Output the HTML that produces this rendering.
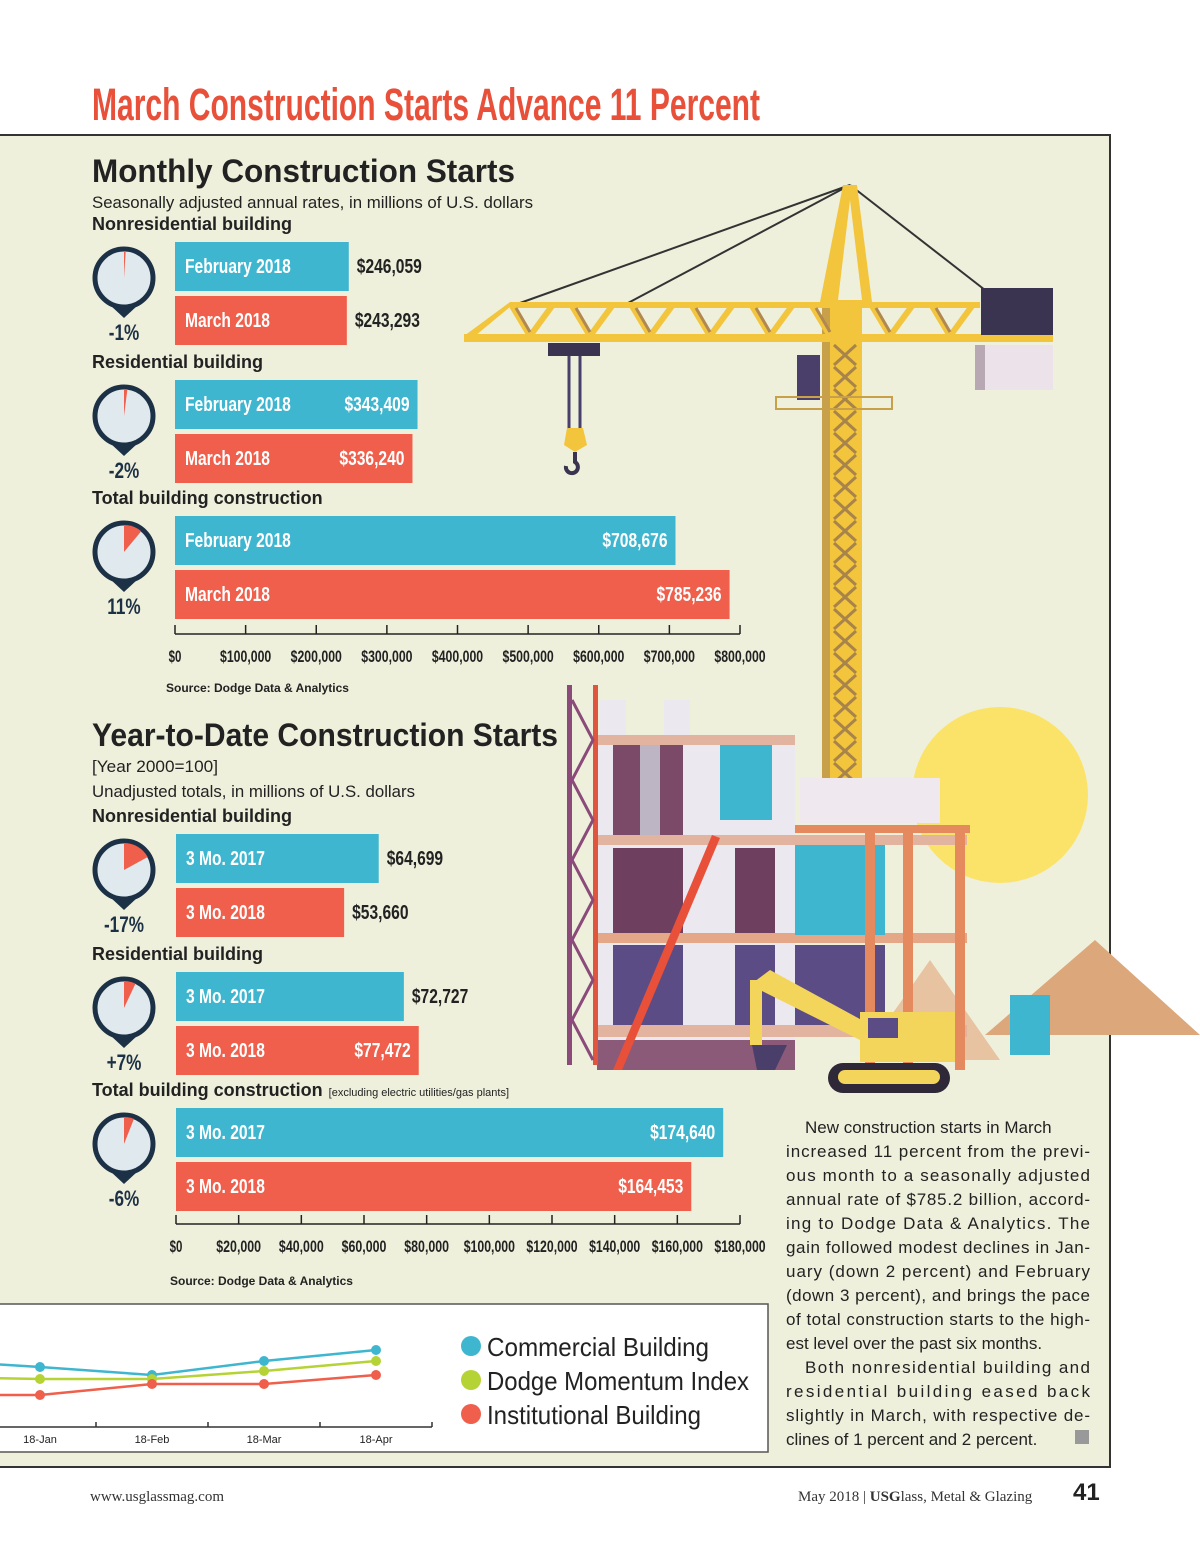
<!DOCTYPE html>
<html><head><meta charset="utf-8"><style>
html,body{margin:0;padding:0;background:#fff;}
svg{display:block;}
.c{font-family:"Liberation Sans Narrow","Liberation Sans",sans-serif;font-weight:bold;}
.s{font-family:"Liberation Sans",sans-serif;}
</style></head><body>
<svg id="page" width="1200" height="1558" viewBox="0 0 1200 1558" xmlns="http://www.w3.org/2000/svg">
<rect width="1200" height="1558" fill="#fff"/>
<text x="92" y="120" class="c" font-size="45" fill="#e8503a" textLength="668" lengthAdjust="spacingAndGlyphs">March Construction Starts Advance 11 Percent</text>
<rect x="-2" y="135" width="1112" height="1332" fill="#eff0dc" stroke="#333" stroke-width="2"/>
<g id="illus">
<circle cx="1000" cy="795" r="88" fill="#fbe36a"/>
<polygon points="985,1035 1095,940 1200,1035" fill="#dca77a"/>
<polygon points="860,1060 930,960 1000,1060" fill="#e8c3a2"/>
<line x1="850" y1="185" x2="520" y2="303" stroke="#333" stroke-width="2"/>
<line x1="850" y1="185" x2="628" y2="303" stroke="#333" stroke-width="2"/>
<line x1="850" y1="185" x2="985" y2="290" stroke="#333" stroke-width="2"/>
<polygon points="843,185 857,185 872,302 820,302" fill="#f2c53d"/>
<polygon points="850,200 862,300 838,300" fill="#eff0dc"/>
<g id="mast"></g>
<g id="jib"></g>
<rect x="981" y="288" width="72" height="47" fill="#3a3450"/>
<rect x="975" y="345" width="78" height="45" fill="#ece2ea"/>
<rect x="975" y="345" width="10" height="45" fill="#b8a8b4"/>
<rect x="797" y="355" width="23" height="45" fill="#4a3f6a"/>
<rect x="776" y="397" width="116" height="12" fill="none" stroke="#c9a04a" stroke-width="2"/>
<rect x="548" y="343" width="52" height="13" fill="#3a3450"/>
<line x1="569" y1="356" x2="569" y2="430" stroke="#4a3f6a" stroke-width="3"/>
<line x1="580" y1="356" x2="580" y2="430" stroke="#4a3f6a" stroke-width="3"/>
<polygon points="567,428 583,428 587,445 575,452 564,445" fill="#f2c53d"/>
<path d="M575 452 v10 a6 6 0 1 1 -9 4" fill="none" stroke="#3a3450" stroke-width="4"/>
<!-- building -->
<rect x="597" y="735" width="198" height="335" fill="#ece8ef"/>
<rect x="613" y="745" width="70" height="90" fill="#7a4a68"/>
<rect x="640" y="745" width="20" height="90" fill="#bdb4c4"/>
<rect x="613" y="848" width="70" height="85" fill="#6e3f5e"/>
<rect x="613" y="945" width="70" height="85" fill="#5c4c85"/>
<rect x="735" y="848" width="40" height="85" fill="#6e3f5e"/>
<rect x="735" y="945" width="40" height="85" fill="#5c4c85"/>
<rect x="720" y="745" width="52" height="75" fill="#3fb6cf"/>
<rect x="597" y="735" width="198" height="10" fill="#e2b4a0"/>
<rect x="597" y="835" width="370" height="10" fill="#e2b4a0"/>
<rect x="597" y="933" width="370" height="10" fill="#e4a888"/>
<rect x="597" y="1025" width="370" height="12" fill="#e2b4a0"/>
<rect x="597" y="1040" width="198" height="30" fill="#8a5a78"/>
<rect x="795" y="845" width="90" height="90" fill="#3fb6cf"/>
<rect x="795" y="945" width="90" height="80" fill="#5c4c85"/>
<rect x="800" y="778" width="140" height="45" fill="#efe8ee"/>
<rect x="795" y="825" width="175" height="8" fill="#e58a5e"/>
<rect x="865" y="825" width="10" height="245" fill="#e58a5e"/>
<rect x="903" y="825" width="10" height="245" fill="#e58a5e"/>
<rect x="955" y="825" width="10" height="245" fill="#e58a5e"/>
<rect x="567" y="685" width="5" height="380" fill="#8a4a7a"/>
<rect x="593" y="685" width="5" height="380" fill="#e0553e"/>
<path d="M572 700 L593 740 L572 780 L593 820 L572 860 L593 900 L572 940 L593 980 L572 1020 L593 1060" fill="none" stroke="#8a4a7a" stroke-width="3"/>
<polygon points="613,1070 712,835 720,838 622,1070" fill="#e8503a"/>
<polygon points="750,985 770,970 880,1030 870,1045" fill="#f2d55a"/>
<rect x="750" y="980" width="12" height="65" fill="#f2d55a"/>
<path d="M752 1045 h35 l-12 25 h-18 z" fill="#4a3f6a"/>
<rect x="860" y="1012" width="95" height="50" fill="#f2d55a"/>
<rect x="868" y="1018" width="30" height="20" fill="#5c4c85"/>
<rect x="828" y="1063" width="122" height="30" rx="15" fill="#2e2838"/>
<rect x="838" y="1070" width="102" height="14" rx="7" fill="#f2d55a"/>
<rect x="1010" y="995" width="40" height="60" fill="#3fb6cf"/>
<rect x="600" y="700" width="26" height="35" fill="#ece8ef"/>
<rect x="664" y="700" width="26" height="35" fill="#ece8ef"/>
</g>
<g id="charts"></g>
<text x="92" y="182" class="s" font-weight="bold" font-size="32" fill="#222" textLength="423" lengthAdjust="spacingAndGlyphs">Monthly Construction Starts</text>
<text x="92" y="208" class="s" font-size="17" fill="#222" textLength="441" lengthAdjust="spacingAndGlyphs">Seasonally adjusted annual rates, in millions of U.S. dollars</text>
<text x="166" y="692" class="s" font-weight="bold" font-size="12" fill="#222">Source: Dodge Data &amp; Analytics</text>
<text x="92" y="746" class="s" font-weight="bold" font-size="32" fill="#222" textLength="466" lengthAdjust="spacingAndGlyphs">Year-to-Date Construction Starts</text>
<text x="92" y="772" class="s" font-size="17" fill="#222" textLength="126" lengthAdjust="spacingAndGlyphs">[Year 2000=100]</text>
<text x="92" y="797" class="s" font-size="17" fill="#222" textLength="323" lengthAdjust="spacingAndGlyphs">Unadjusted totals, in millions of U.S. dollars</text>
<text x="170" y="1285" class="s" font-weight="bold" font-size="12" fill="#222">Source: Dodge Data &amp; Analytics</text>
<rect x="-2" y="1304" width="770" height="148" fill="#fff" stroke="#555" stroke-width="1.5"/>
<g id="linechart"></g>
<g class="s" font-size="17" fill="#222">
<text x="805" y="1133">New construction starts in March</text>
<text x="786" y="1157" textLength="304" lengthAdjust="spacing">increased 11 percent from the previ-</text>
<text x="786" y="1181" textLength="304" lengthAdjust="spacing">ous month to a seasonally adjusted</text>
<text x="786" y="1205" textLength="304" lengthAdjust="spacing">annual rate of $785.2 billion, accord-</text>
<text x="786" y="1229" textLength="304" lengthAdjust="spacing">ing to Dodge Data &amp; Analytics. The</text>
<text x="786" y="1253" textLength="304" lengthAdjust="spacing">gain followed modest declines in Jan-</text>
<text x="786" y="1277" textLength="304" lengthAdjust="spacing">uary (down 2 percent) and February</text>
<text x="786" y="1301" textLength="304" lengthAdjust="spacing">(down 3 percent), and brings the pace</text>
<text x="786" y="1325" textLength="304" lengthAdjust="spacing">of total construction starts to the high-</text>
<text x="786" y="1349">est level over the past six months.</text>
<text x="805" y="1373" textLength="285" lengthAdjust="spacing">Both nonresidential building and</text>
<text x="786" y="1397" textLength="304" lengthAdjust="spacing">residential building eased back</text>
<text x="786" y="1421" textLength="304" lengthAdjust="spacing">slightly in March, with respective de-</text>
<text x="786" y="1445">clines of 1 percent and 2 percent.</text>
<rect x="1075" y="1430" width="14" height="14" fill="#999"/>
</g>
<text x="90" y="1501" font-family="Liberation Serif,serif" font-size="15" fill="#333">www.usglassmag.com</text>
<text x="798" y="1501" font-family="Liberation Serif,serif" font-size="15" fill="#333">May 2018 |  <tspan font-weight="bold">USG</tspan>lass, Metal &amp; Glazing</text>
<text x="1073" y="1500" class="s" font-weight="bold" font-size="24" fill="#222">41</text>
</svg>
<script>
// ---- Monthly chart data ----
const monthlyGroups = ["Nonresidential building","Residential building","Total building construction"];
const monthlyFeb = [246059, 343409, 708676];
const monthlyMar = [243293, 336240, 785236];
const monthlyPct = ["-1%","-2%","11%"];
const monthlyPctVal = [-1, -2, 11];
const monthlyTicks = ["$0","$100,000","$200,000","$300,000","$400,000","$500,000","$600,000","$700,000","$800,000"];
const monthlyTickVals = [0,100000,200000,300000,400000,500000,600000,700000,800000];
// ---- YTD chart data ----
const ytdGroups = ["Nonresidential building","Residential building","Total building construction"];
const ytd2017 = [64699, 72727, 174640];
const ytd2018 = [53660, 77472, 164453];
const ytdPct = ["-17%","+7%","-6%"];
const ytdPctVal = [-17, 7, -6];
const ytdTicks = ["$0","$20,000","$40,000","$60,000","$80,000","$100,000","$120,000","$140,000","$160,000","$180,000"];
const ytdTickVals = [0,20000,40000,60000,80000,100000,120000,140000,160000,180000];
// ---- Momentum line chart data ----
const lineCats = ["17-Dec","18-Jan","18-Feb","18-Mar","18-Apr"];
const commercial = [140,126,110,138,160];
const momentum = [106,102,102,118,138];
const institutional = [70,70,92,92,110];
const legendNames = ["Commercial Building","Dodge Momentum Index","Institutional Building"];

const NS="http://www.w3.org/2000/svg";
const BLUE="#3fb6cf", RED="#ef5f4b", NAVY="#1d3146", GREEN="#b5d334";
function mk(parent,tag,attrs,text){const e=document.createElementNS(NS,tag);for(const k in attrs)e.setAttribute(k,attrs[k]);if(text!=null)e.textContent=text;parent.appendChild(e);return e;}
const charts=document.getElementById('charts');

// decorative crane lattice
const mast=document.getElementById('mast');
mk(mast,'rect',{x:822,y:302,width:40,height:476,fill:"#f2c53d"});
mk(mast,'rect',{x:822,y:302,width:8,height:476,fill:"#c9a04a"});
for(let y=345;y<770;y+=22){
  mk(mast,'path',{d:`M834 ${y} L856 ${y+20} M856 ${y} L834 ${y+20}`,stroke:"#a8834a","stroke-width":3});
}
const jib=document.getElementById('jib');
mk(jib,'rect',{x:510,y:302,width:470,height:6,fill:"#f2c53d"});
mk(jib,'polygon',{points:"464,336 510,302 516,302 475,336",fill:"#f2c53d"});
mk(jib,'rect',{x:464,y:334,width:589,height:8,fill:"#f2c53d"});
for(let x=512;x<975;x+=60){
  mk(jib,'path',{d:`M${x} 306 L${x+18} 336 L${x+40} 306`,fill:"none",stroke:"#f2c53d","stroke-width":6});
  mk(jib,'path',{d:`M${x+4} 308 L${x+18} 332`,fill:"none",stroke:"#b08850","stroke-width":3});
}

function condense(t,f){const l=t.getComputedTextLength();t.setAttribute('textLength',l*f);t.setAttribute('lengthAdjust','spacingAndGlyphs');}

function gauge(cx,cy,pct,label){
  const g=mk(charts,'g',{});
  
  
  mk(g,'path',{d:`M${cx-14} ${cy+27} L${cx} ${cy+40} L${cx+14} ${cy+27} Z`,fill:NAVY});
  mk(g,'circle',{cx:cx,cy:cy,r:29,fill:"#dfe9ee",stroke:NAVY,"stroke-width":5});
  const a=Math.max(Math.abs(pct),0.6)/100*2*Math.PI, r=27;
  const x=cx+r*Math.sin(a), y=cy-r*Math.cos(a);
  mk(g,'path',{d:`M${cx} ${cy} L${cx} ${cy-r} A${r} ${r} 0 ${a>Math.PI?1:0} 1 ${x} ${y} Z`,fill:RED});
  const t=mk(g,'text',{x:cx,y:cy+62,"text-anchor":"middle",class:"c","font-size":22,fill:NAVY},label);
  
  
  condense(t,0.78);
}

function barChart(cfg){
  const x0=cfg.x0, x1=cfg.x1, max=cfg.max;
  const sx=v=>x0+(v/max)*(x1-x0);
  cfg.groups.forEach((name,i)=>{
    const top=cfg.tops[i];
    const h=mk(charts,'text',{x:92,y:top-12,class:"s","font-weight":"bold","font-size":18,fill:"#222"},name);
    
    
    if(i===2&&cfg.note){mk(h,'tspan',{"font-size":11,"font-weight":"normal",dx:6},cfg.note);}
    [[cfg.a,BLUE,cfg.la,0],[cfg.b,RED,cfg.lb,54]].forEach(([arr,col,lab,off])=>{
      const v=arr[i], y=top+off, w=sx(v)-x0;
      const r=mk(charts,'rect',{x:x0,y:y,width:w,height:49,fill:col});
      
      
      const lt=mk(charts,'text',{x:x0+10,y:y+31,class:"c","font-size":20,fill:"#fff"},lab);
      condense(lt,0.78);
      const txt="$"+v.toLocaleString('en-US');
      const inside = w>230;
      const vt=mk(charts,'text',{x:inside?sx(v)-8:sx(v)+8,y:y+31,"text-anchor":inside?"end":"start",class:"c","font-size":20,fill:inside?"#fff":"#222"},txt);
      
      
      condense(vt,0.78);
    });
    gauge(124,top+36,cfg.pv[i],cfg.pl[i]);
  });
  const ay=cfg.axisY;
  const ax=mk(charts,'line',{x1:x0,y1:ay,x2:x1,y2:ay,stroke:"#222","stroke-width":1.5});
  
  
  cfg.tv.forEach((v,j)=>{
    mk(charts,'line',{x1:sx(v),y1:ay-9,x2:sx(v),y2:ay,stroke:"#222","stroke-width":1.5});
    const t=mk(charts,'text',{x:sx(v),y:ay+28,"text-anchor":"middle",class:"c","font-size":17,fill:"#222",textLength:cfg.tl[j].length*6.4,lengthAdjust:"spacingAndGlyphs"},cfg.tl[j]);
    
    
  });
}
barChart({groups:monthlyGroups,a:monthlyFeb,b:monthlyMar,la:"February 2018",lb:"March 2018",pv:monthlyPctVal,pl:monthlyPct,
  x0:175,x1:740,max:800000,tops:[242,380,516],axisY:634,tv:monthlyTickVals,tl:monthlyTicks});
barChart({groups:ytdGroups,a:ytd2017,b:ytd2018,la:"3 Mo. 2017",lb:"3 Mo. 2018",pv:ytdPctVal,pl:ytdPct,
  x0:176,x1:740,max:180000,tops:[834,972,1108],axisY:1224,tv:ytdTickVals,tl:ytdTicks,note:"[excluding electric utilities/gas plants]"});

// line chart
const lc=document.getElementById('linechart');
const lx=i=>-72+i*112;
const ly=v=>1430-v/2;
const al=mk(lc,'line',{x1:0,y1:1427,x2:432,y2:1427,stroke:"#333","stroke-width":1.5});


lineCats.forEach((c,i)=>{
  if(i>0){const t=mk(lc,'text',{x:lx(i),y:1443,"text-anchor":"middle",class:"s","font-size":11,fill:"#222"},c);
  
  }
  mk(lc,'line',{x1:lx(i)+56,y1:1422,x2:lx(i)+56,y2:1427,stroke:"#333","stroke-width":1.5});
});
[[commercial,BLUE],[momentum,GREEN],[institutional,RED]].forEach(([arr,col],k)=>{
  const p=mk(lc,'polyline',{points:arr.map((v,i)=>lx(i)+","+ly(v)).join(" "),fill:"none",stroke:col,"stroke-width":2.5});
  
  
  arr.forEach((v,i)=>{const c=mk(lc,'circle',{cx:lx(i),cy:ly(v),r:5,fill:col});
    
    });
  const ly2=1347+k*34;
  mk(lc,'circle',{cx:471,cy:ly2-1,r:10,fill:col});
  const t=mk(lc,'text',{x:487,y:ly2+9,class:"s","font-size":26,fill:"#222",textLength:[222,262,214][k],lengthAdjust:"spacingAndGlyphs"},legendNames[k]);
  
  
});
</script>
</body></html>
